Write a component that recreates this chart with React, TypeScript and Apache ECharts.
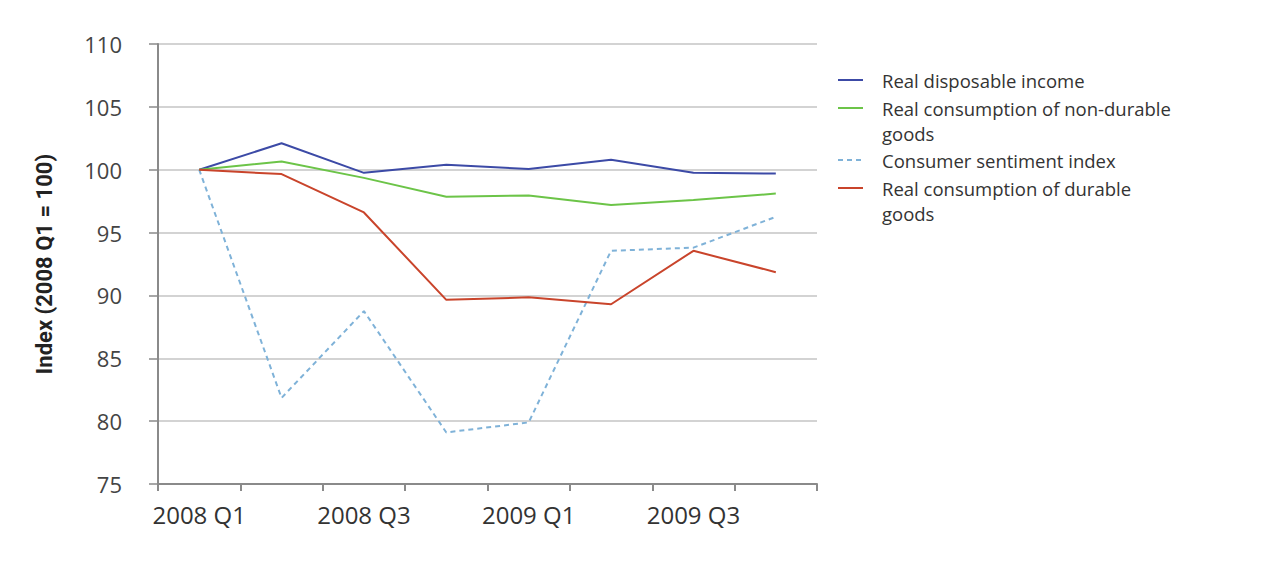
import React, { useEffect, useRef } from "react";
import * as echarts from "echarts";

const quarters = ["2008 Q1", "2008 Q2", "2008 Q3", "2008 Q4", "2009 Q1", "2009 Q2", "2009 Q3", "2009 Q4"];
const income = [100, 102.1, 99.75, 100.4, 100.05, 100.8, 99.75, 99.7];
const nonDurable = [100, 100.65, 99.35, 97.85, 97.95, 97.2, 97.6, 98.1];
const sentiment = [100, 81.85, 88.75, 79.1, 79.9, 93.55, 93.8, 96.25];
const durable = [100, 99.65, 96.6, 89.65, 89.85, 89.3, 93.55, 91.85];

const names = [
  "Real disposable income",
  "Real consumption of non-durable goods",
  "Consumer sentiment index",
  "Real consumption of durable goods",
];
const legendText = [
  "Real disposable income",
  "Real consumption of non-durable\ngoods",
  "Consumer sentiment index",
  "Real consumption of durable\ngoods",
];
const colors = ["#3c4aa6", "#6cc448", "#7fb2d8", "#c9442b"];

export default function App() {
  const ref = useRef<HTMLDivElement>(null);
  useEffect(() => {
    if (!ref.current) return;
    const chart = echarts.init(ref.current, null, { renderer: "svg" });
    const L = 25.5;
    const iconCenters = [80, 108, 160, 188];
    const legends = names.map((n, i) => {
      const twoLine = legendText[i].includes("\n");
      return {
        show: true,
        orient: "vertical",
        left: 837,
        top: twoLine ? iconCenters[i] - 1.5 * L : iconCenters[i] - L / 2,
        padding: 0,
        data: [n],
        itemWidth: 25,
        itemHeight: 22,
        itemStyle: { opacity: 0 },
        formatter: () => (twoLine ? "\u00a0\n" + legendText[i] : legendText[i]),
        selectedMode: false,
        textStyle: {
          fontFamily: "Open Sans",
          fontSize: 18.5,
          color: "#333",
          lineHeight: L,
          padding: [0, 0, 0, 14],
        },
      };
    });
    const datasets = [income, nonDurable, sentiment, durable];
    chart.setOption({
      animation: false,
      backgroundColor: "#ffffff",
      grid: { left: 158, right: 459, top: 44, bottom: 94, containLabel: false },
      legend: legends,
      xAxis: {
        type: "category",
        data: quarters,
        boundaryGap: true,
        axisLine: { lineStyle: { color: "#8a8a8a", width: 2 } },
        axisTick: { show: true, interval: 0, length: 7, lineStyle: { color: "#8a8a8a", width: 2 } },
        axisLabel: {
          interval: 1,
          margin: 18,
          fontFamily: "Open Sans",
          fontSize: 24,
          color: "#333",
        },
        splitLine: { show: false },
      },
      yAxis: {
        type: "value",
        min: 75,
        max: 110,
        interval: 5,
        name: "Index (2008 Q1 = 100)",
        nameLocation: "middle",
        nameGap: 103,
        nameRotate: 90,
        nameTextStyle: {
          fontFamily: "Roboto",
          fontWeight: "bold",
          fontSize: 22,
          color: "#222",
        },
        axisLine: { show: true, lineStyle: { color: "#8a8a8a", width: 2 } },
        axisTick: { show: true, length: 9, lineStyle: { color: "#8a8a8a", width: 1.5 } },
        axisLabel: {
          margin: 36,
          fontFamily: "Open Sans",
          fontSize: 22,
          color: "#444",
          padding: [5, 0, 0, 0],
        },
        splitLine: { show: true, lineStyle: { color: "#c4c4c4", width: 1.5 } },
      },
      series: names.map((n, i) => ({
        name: n,
        type: "line",
        data: datasets[i],
        symbol: "none",
        color: colors[i],
        lineStyle: {
          color: colors[i],
          width: 2,
          type: i === 2 ? [5, 4] : "solid",
        },
        z: i === 2 ? 1 : 2,
      })),
    });
    return () => chart.dispose();
  }, []);
  return (
    <div
      ref={ref}
      style={{ position: "absolute", left: 0, top: 0, width: 1276, height: 578 }}
    />
  );
}
